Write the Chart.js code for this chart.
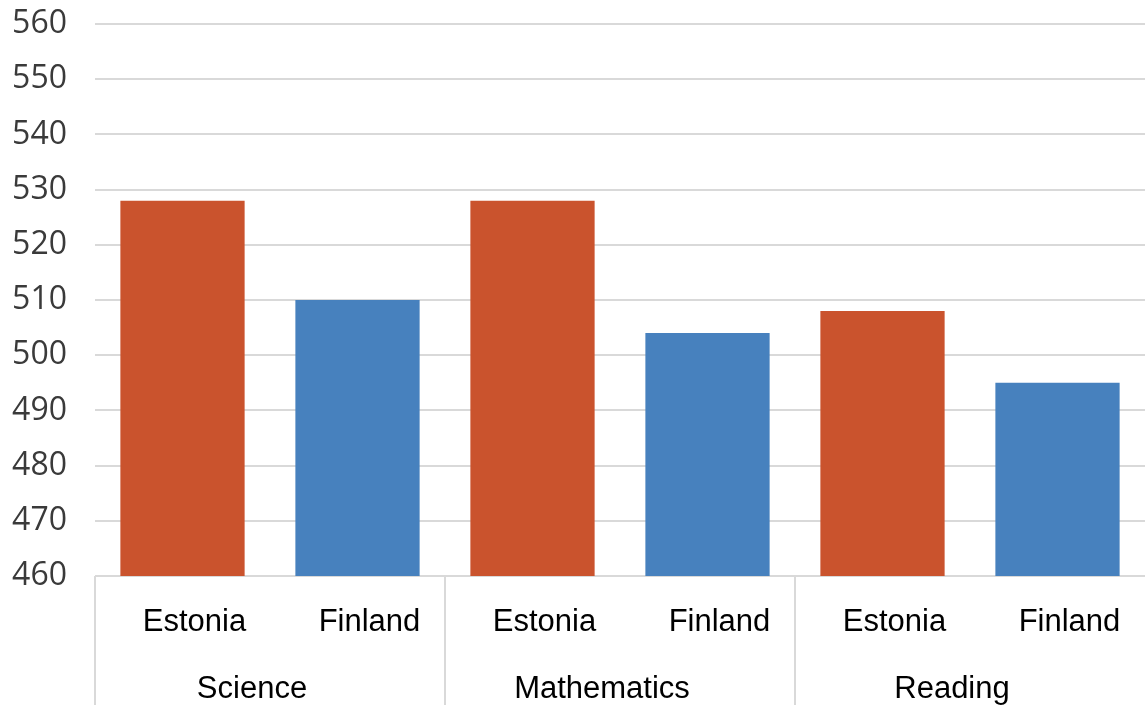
<!DOCTYPE html>
<html>
<head>
<meta charset="utf-8">
<style>
  html, body { margin: 0; padding: 0; background: #ffffff; }
  #wrap { width: 1145px; height: 705px; }
</style>
<script src="https://cdn.jsdelivr.net/npm/chart.js@4/dist/chart.umd.min.js"></script>
</head>
<body>
<div id="wrap"><canvas id="chart" width="1145" height="705"></canvas></div>
<script>
// PISA-style scores by subject and country
const subjects = ['Science', 'Mathematics', 'Reading'];
const countries = ['Estonia', 'Finland'];
const estonia = [528, 528, 508];
const finland = [510, 504, 495];
const yTicks = { min: 460, max: 560, step: 10 };

const countryColors = ['#CA532D', '#4781BE'];

// Flatten subject x country into one row of bars
const barLabels = [];
const barValues = [];
const barColors = [];
subjects.forEach((s, i) => {
  [estonia, finland].forEach((series, j) => {
    barLabels.push(countries[j]);
    barValues.push(series[i]);
    barColors.push(countryColors[j]);
  });
});

const gridGray = '#d9d9d9';
const clear = 'rgba(0,0,0,0)';

new Chart(document.getElementById('chart'), {
  type: 'bar',
  data: {
    labels: barLabels,
    datasets: [{
      data: barValues,
      backgroundColor: barColors,
      borderWidth: 0,
      barPercentage: 0.71,
      categoryPercentage: 1.0
    }]
  },
  options: {
    responsive: false,
    animation: false,
    devicePixelRatio: 1,
    layout: { padding: 0 },
    plugins: { legend: { display: false }, tooltip: { enabled: false } },
    scales: {
      y: {
        min: yTicks.min,
        max: yTicks.max,
        ticks: {
          stepSize: yTicks.step,
          padding: 28,
          color: '#3a3a3a',
          font: { family: '"Open Sans"', size: 32 }
        },
        grid: { color: gridGray, lineWidth: 2, drawTicks: false },
        border: { display: false },
        afterFit: (scale) => {
          scale.width = 95;
          scale.paddingTop = 24;
          scale.paddingBottom = 0;
        }
      },
      x: {
        type: 'category',
        position: 'bottom',
        offset: true,
        ticks: {
          autoSkip: false,
          maxRotation: 0,
          minRotation: 0,
          padding: -38,
          labelOffset: 12,
          color: '#000000',
          font: { family: '"Liberation Sans", Arial', size: 31 }
        },
        grid: {
          offset: true,
          drawOnChartArea: false,
          drawTicks: true,
          tickLength: 66,
          lineWidth: 2,
          // only the subject boundaries, not the right edge
          color: (ctx) => (ctx.index % 2 === 0 && ctx.index < barLabels.length ? gridGray : clear)
        },
        border: { display: false },
        afterFit: (scale) => {
          scale.height = 66;
          scale.paddingLeft = 0;
          scale.paddingRight = 0;
        }
      },
      x2: {
        type: 'category',
        position: 'bottom',
        labels: subjects,
        offset: true,
        ticks: {
          autoSkip: false,
          maxRotation: 0,
          minRotation: 0,
          padding: -34,
          labelOffset: -18,
          color: '#000000',
          font: { family: '"Liberation Sans", Arial', size: 31 }
        },
        grid: {
          offset: true,
          drawOnChartArea: false,
          drawTicks: true,
          tickLength: 63,
          lineWidth: 2,
          color: (ctx) => (ctx.index < subjects.length ? gridGray : clear)
        },
        border: { display: false },
        afterFit: (scale) => {
          scale.height = 63;
          scale.paddingLeft = 0;
          scale.paddingRight = 0;
        }
      }
    }
  }
});
</script>
</body>
</html>
